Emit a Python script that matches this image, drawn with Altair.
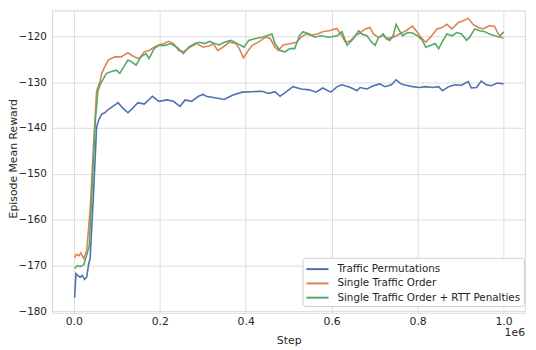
import altair as alt
import pandas as pd

# Step values are in units of 1e6 steps
perm_steps = [0.002,0.005,0.01,0.015,0.02,0.025,0.03,0.035,0.038,0.046,0.053,0.057,0.065,0.072,0.08,0.091,0.103,0.114,0.126,0.137,0.149,0.164,0.183,0.198,0.217,0.232,0.247,0.259,0.274,0.29,0.301,0.308,0.331,0.35,0.369,0.392,0.415,0.438,0.453,0.468,0.48,0.495,0.51,0.529,0.548,0.564,0.579,0.598,0.613,0.624,0.644,0.659,0.666,0.682,0.697,0.712,0.724,0.739,0.75,0.761,0.773,0.788,0.803,0.819,0.834,0.849,0.858,0.872,0.887,0.902,0.918,0.925,0.937,0.948,0.96,0.971,0.986,1.0]
perm_reward = [-177.1,-171.8,-172.3,-172.6,-172.2,-173.1,-172.6,-169.5,-168.5,-154.2,-139.9,-138.5,-137.0,-136.7,-136.0,-135.3,-134.5,-135.7,-136.7,-135.7,-134.5,-134.8,-133.1,-134.2,-133.9,-134.2,-135.3,-133.9,-134.2,-133.1,-132.7,-133.1,-133.5,-133.8,-132.9,-132.2,-132.1,-132.0,-132.5,-132.1,-133.1,-132.1,-131.0,-131.5,-131.7,-132.2,-131.3,-132.2,-131.0,-130.6,-131.2,-131.9,-131.2,-131.5,-130.8,-130.4,-131.0,-130.6,-129.5,-130.4,-130.7,-131.0,-131.2,-131.0,-131.2,-131.0,-131.9,-131.0,-130.6,-130.7,-129.9,-131.3,-131.2,-129.8,-130.6,-130.8,-130.2,-130.4]

single_steps = [0.002,0.006,0.012,0.016,0.023,0.03,0.038,0.046,0.053,0.061,0.065,0.072,0.08,0.095,0.11,0.126,0.137,0.152,0.164,0.175,0.187,0.198,0.21,0.221,0.232,0.244,0.255,0.27,0.286,0.301,0.316,0.324,0.335,0.347,0.362,0.377,0.385,0.395,0.404,0.415,0.43,0.446,0.457,0.468,0.476,0.487,0.506,0.518,0.529,0.541,0.552,0.567,0.579,0.594,0.612,0.621,0.632,0.644,0.655,0.663,0.678,0.689,0.697,0.708,0.72,0.731,0.743,0.758,0.773,0.788,0.8,0.807,0.819,0.83,0.845,0.857,0.868,0.88,0.895,0.906,0.918,0.929,0.941,0.952,0.967,0.979,0.986,0.994,1.0]
single_reward = [-168.3,-167.6,-167.9,-167.3,-168.5,-166.8,-157.8,-143.4,-132.0,-129.9,-128.1,-126.7,-125.2,-124.5,-124.5,-123.6,-124.3,-124.9,-123.4,-123.1,-122.4,-121.9,-121.6,-121.1,-121.6,-123.1,-123.4,-122.4,-121.6,-122.4,-122.1,-121.6,-123.1,-122.4,-121.3,-121.6,-122.7,-124.7,-123.4,-122.0,-121.3,-120.2,-120.5,-122.4,-123.1,-121.9,-121.6,-121.3,-120.2,-119.5,-119.8,-119.5,-119.0,-118.8,-118.3,-119.5,-121.3,-121.0,-119.8,-119.5,-118.4,-118.1,-119.5,-120.2,-119.9,-120.5,-120.2,-119.5,-118.8,-117.8,-119.2,-120.2,-121.3,-120.2,-118.4,-118.1,-117.4,-118.4,-117.0,-116.6,-116.1,-117.4,-118.1,-118.4,-117.7,-117.8,-119.2,-120.2,-120.5]

rtt_steps = [0.002,0.008,0.015,0.023,0.03,0.036,0.042,0.05,0.056,0.061,0.065,0.076,0.088,0.099,0.107,0.114,0.126,0.133,0.145,0.156,0.168,0.175,0.187,0.198,0.213,0.225,0.24,0.255,0.267,0.282,0.293,0.305,0.316,0.327,0.339,0.35,0.366,0.381,0.396,0.407,0.423,0.438,0.449,0.461,0.468,0.48,0.491,0.503,0.514,0.525,0.533,0.548,0.56,0.575,0.594,0.613,0.624,0.636,0.651,0.663,0.67,0.682,0.693,0.701,0.708,0.72,0.727,0.735,0.743,0.75,0.758,0.765,0.777,0.788,0.8,0.811,0.819,0.83,0.841,0.849,0.857,0.868,0.88,0.891,0.902,0.914,0.921,0.933,0.944,0.956,0.967,0.979,0.99,1.0]
rtt_reward = [-170.7,-170.1,-170.3,-169.9,-167.8,-165.7,-154.2,-138.5,-132.0,-130.6,-129.9,-128.1,-127.7,-127.4,-128.1,-127.0,-125.2,-125.5,-126.3,-124.5,-123.8,-124.9,-122.7,-122.0,-122.0,-121.6,-122.4,-123.8,-122.4,-121.6,-121.3,-121.6,-121.1,-121.6,-121.9,-121.3,-120.9,-121.6,-122.4,-120.9,-120.5,-120.2,-119.9,-119.5,-121.6,-123.1,-123.4,-122.7,-122.7,-119.9,-119.0,-119.5,-120.2,-119.9,-120.2,-119.9,-119.0,-122.0,-120.5,-118.8,-119.5,-119.9,-121.3,-122.0,-120.5,-119.5,-120.5,-120.9,-119.9,-117.4,-118.8,-119.9,-119.2,-119.3,-119.9,-120.9,-122.4,-122.0,-121.6,-122.7,-121.3,-119.5,-119.9,-119.2,-119.5,-120.9,-120.2,-118.4,-118.8,-119.0,-119.5,-119.9,-120.2,-119.0]

series_names = ["Traffic Permutations", "Single Traffic Order", "Single Traffic Order + RTT Penalties"]
series_colors = ["#4c72b0", "#dd8452", "#55a868"]
x_ticks = [0, 200000, 400000, 600000, 800000, 1000000]
y_ticks = [-180, -170, -160, -150, -140, -130, -120]

rows = []
for name, steps, rew in zip(series_names,
                            [perm_steps, single_steps, rtt_steps],
                            [perm_reward, single_reward, rtt_reward]):
    for i, (s, r) in enumerate(zip(steps, rew)):
        rows.append({"series": name, "step": s * 1e6, "reward": r, "order": i})
df = pd.DataFrame(rows)

grid = "#dcdcdc"
txt = "#262626"

lines = alt.Chart(df).mark_line(strokeWidth=1.6).encode(
    x=alt.X("step:Q",
            scale=alt.Scale(domain=[-50000, 1050000], nice=False, zero=False),
            axis=alt.Axis(values=x_ticks, title="Step", tickSize=0,
                          labelExpr="format(datum.value / 1000000, '.1f')",
                          labelPadding=3, titlePadding=8, labelFontSize=11,
                          titleFontSize=11, titleFontWeight="normal",
                          labelColor=txt, titleColor=txt, gridColor=grid,
                          domain=False)),
    y=alt.Y("reward:Q",
            scale=alt.Scale(domain=[-180.4, -114.4], nice=False, zero=False),
            axis=alt.Axis(values=y_ticks, title="Episode Mean Reward", tickSize=0,
                          labelPadding=6, labelFontSize=10.5, titleFontSize=11,
                          titleFontWeight="normal", labelColor=txt, titleColor=txt,
                          gridColor=grid, domain=False, titleX=-34, titleY=150)),
    color=alt.Color("series:N",
                    scale=alt.Scale(domain=series_names, range=series_colors),
                    sort=series_names,
                    legend=alt.Legend(title=None, orient="none", legendX=254, legendY=251,
                                      symbolType="M-1,0H2", symbolSize=225,
                                      symbolStrokeWidth=2, labelFontSize=10.5,
                                      labelColor=txt, fillColor="white",
                                      strokeColor="#cccccc", padding=3,
                                      rowPadding=0.5, cornerRadius=3,
                                      labelOffset=15.5, labelLimit=400)),
    order="order:Q",
)

offset_text = alt.Chart(pd.DataFrame({"t": ["1e6"]})).mark_text(
    align="right", baseline="middle", fontSize=11, color=txt
).encode(text="t:N", x=alt.value(480), y=alt.value(327))

chart = (lines + offset_text).properties(
    width=480, height=307,
    autosize=alt.AutoSizeParams(type="none"),
    padding={"left": 45, "top": 0, "right": 3, "bottom": 35},
).configure(font="DejaVu Sans").configure_view(stroke=grid, strokeWidth=1.2)

chart.save("out.html", embed_options={"renderer": "svg", "actions": False})
